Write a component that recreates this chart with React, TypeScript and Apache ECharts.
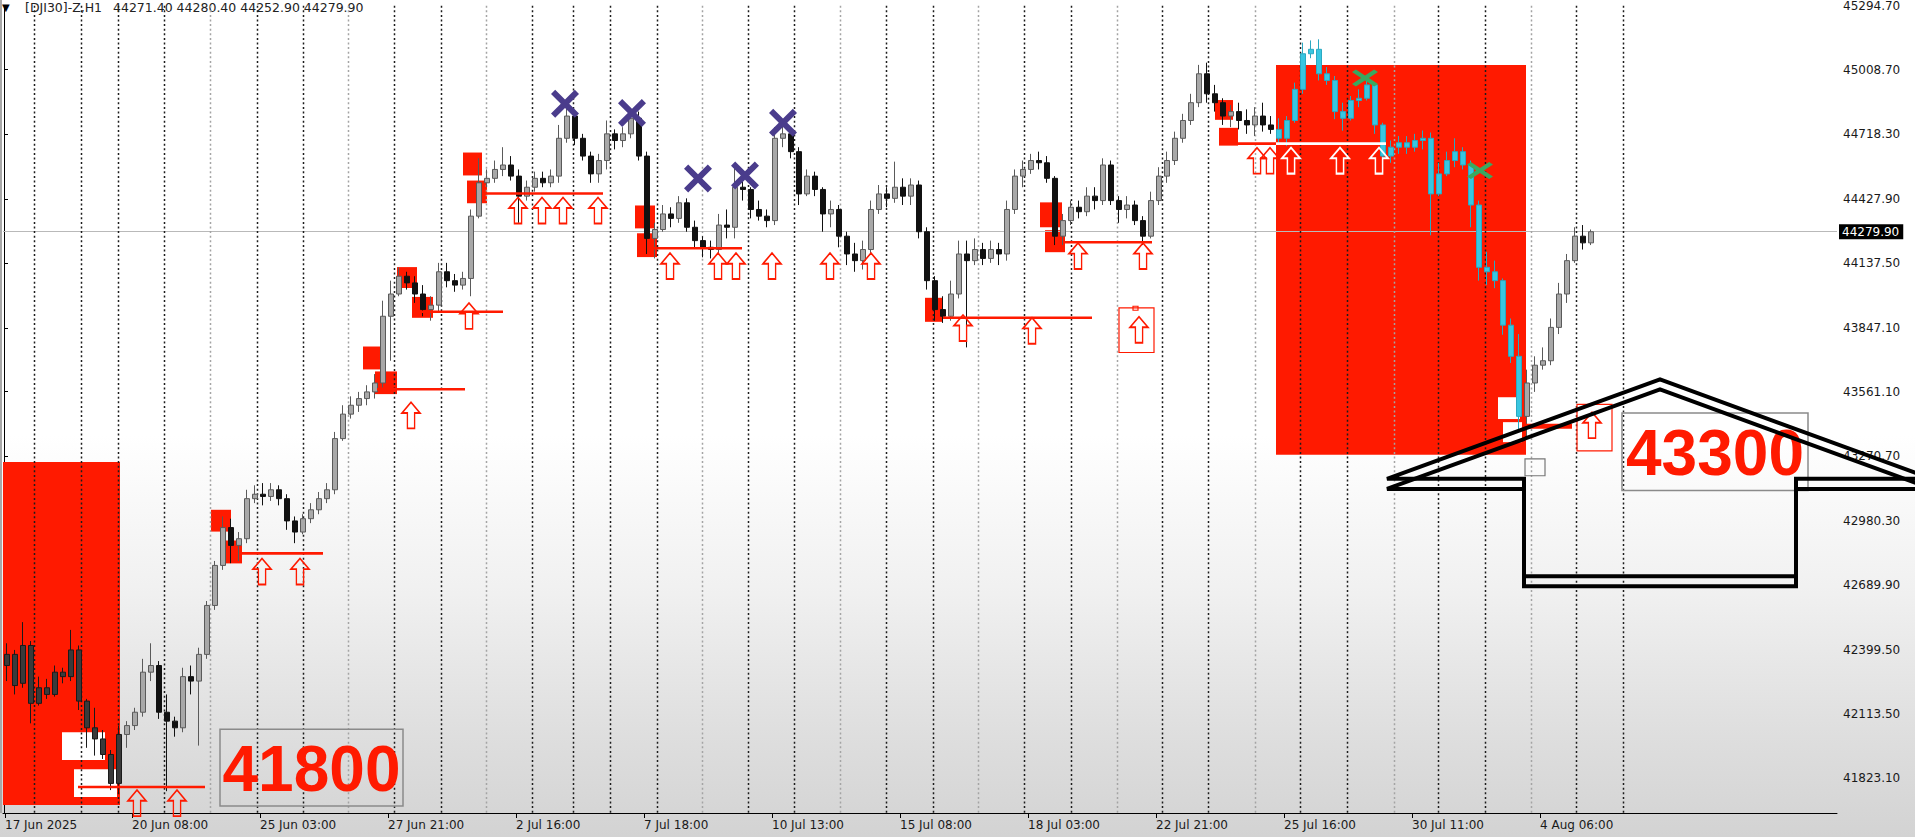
import React, { useEffect, useRef } from 'react';
import * as echarts from 'echarts';

// ---------------- data ----------------
const HOURS_PER_CANDLE = 4;
const candleOpen = [
  42330, 42380, 42250, 42420, 42160, 42230, 42200, 42300, 42280, 42400,
  42170, 42050, 42000, 41930, 41800, 42020, 42060, 42120, 42300, 42330,
  42120, 42080, 42050, 42280, 42260, 42380, 42600, 42780, 42950, 42870,
  42900, 43080, 43100, 43090, 43120, 43080, 42980, 42930, 42990, 43030,
  43080, 43120, 43350, 43460, 43500, 43530, 43560, 43600, 43900, 44000,
  44080, 44050, 44000, 43930, 43950, 44100, 44060, 44040, 44070, 44350,
  44500, 44520, 44560, 44580, 44530, 44440, 44480, 44520, 44500, 44530,
  44700, 44800, 44700, 44620, 44540, 44600, 44720, 44690, 44720, 44790,
  44620, 44250, 44290, 44360, 44340, 44410, 44300, 44240, 44210, 44200,
  44310, 44300, 44480, 44470, 44380, 44350, 44330, 44700, 44720, 44640,
  44450, 44530, 44470, 44360, 44380, 44260, 44180, 44150, 44200, 44380,
  44450, 44430, 44480, 44440, 44490, 44280, 44060, 43930, 43900, 44000,
  44180, 44150, 44200, 44160, 44200, 44180, 44380, 44530, 44560, 44600,
  44590, 44520, 44260, 44330, 44390, 44370, 44440, 44420, 44580, 44420,
  44380, 44400, 44330, 44260, 44420, 44530, 44600, 44700, 44780, 44860,
  44990, 44900, 44860, 44800, 44820, 44780, 44760, 44800, 44760, 44740,
  44700, 44780, 44920, 45080, 45100, 44990, 44960, 44820, 44790, 44870,
  44880, 44940, 44760, 44620, 44660, 44680, 44660, 44690, 44700, 44450,
  44540, 44600, 44640, 44580, 44400, 44120, 44100, 44060, 43860, 43720,
  43450, 43600, 43680, 43700, 43850, 44000, 44150, 44260, 44230,
];
const candleClose = [
  42380, 42240, 42420, 42160, 42230, 42200, 42300, 42280, 42400, 42170,
  42050, 42000, 41930, 41800, 42020, 42060, 42120, 42300, 42330, 42120,
  42080, 42050, 42280, 42260, 42380, 42600, 42780, 42950, 42870, 42900,
  43080, 43100, 43090, 43120, 43080, 42980, 42930, 42990, 43030, 43080,
  43120, 43350, 43460, 43500, 43530, 43560, 43600, 43900, 44000, 44080,
  44050, 44000, 43930, 43950, 44100, 44060, 44040, 44070, 44350, 44500,
  44520, 44560, 44580, 44530, 44440, 44480, 44520, 44500, 44530, 44700,
  44800, 44700, 44620, 44540, 44600, 44720, 44690, 44720, 44790, 44620,
  44250, 44290, 44360, 44340, 44410, 44300, 44240, 44210, 44200, 44310,
  44300, 44480, 44470, 44380, 44350, 44330, 44700, 44720, 44640, 44450,
  44530, 44470, 44360, 44380, 44260, 44180, 44150, 44200, 44380, 44450,
  44430, 44480, 44440, 44490, 44280, 44060, 43930, 43900, 44000, 44180,
  44150, 44200, 44160, 44200, 44180, 44380, 44530, 44560, 44600, 44590,
  44520, 44260, 44330, 44390, 44370, 44440, 44420, 44580, 44420, 44380,
  44400, 44330, 44260, 44420, 44530, 44600, 44700, 44780, 44860, 44990,
  44900, 44860, 44800, 44820, 44780, 44760, 44800, 44760, 44740, 44700,
  44780, 44920, 45080, 45100, 44990, 44960, 44820, 44790, 44870, 44880,
  44940, 44760, 44620, 44660, 44680, 44660, 44690, 44700, 44450, 44540,
  44600, 44640, 44580, 44400, 44120, 44100, 44060, 43860, 43720, 43450,
  43600, 43680, 43700, 43850, 44000, 44150, 44260, 44230, 44279.9,
];
const candleLow = [
  42260, 42200, 42230, 42070, 42150, 42180, 42190, 42250, 42260, 42130,
  41960, 41925, 41910, 41770, 41757, 41960, 42040, 42100, 42260, 42090,
  41765, 42010, 42030, 42200, 41970, 42360, 42580, 42760, 42790, 42800,
  42880, 43060, 43050, 43070, 43050, 42940, 42880, 42920, 42970, 43010,
  43060, 43100, 43340, 43440, 43470, 43500, 43530, 43580, 43700, 43990,
  44020, 43960, 43900, 43880, 43920, 44030, 44010, 44020, 43990, 44340,
  44480, 44500, 44530, 44510, 44320, 44420, 44460, 44480, 44480, 44500,
  44680, 44670, 44600, 44500, 44500, 44560, 44650, 44660, 44700, 44600,
  44180, 44160, 44280, 44300, 44320, 44280, 44210, 44165, 44160, 44180,
  44250, 44250, 44420, 44340, 44330, 44300, 44310, 44660, 44610, 44400,
  44440, 44440, 44280, 44300, 44210, 44130, 44100, 44110, 44180, 44360,
  44390, 44410, 44400, 44400, 44250, 44020, 43880, 43870, 43880, 43980,
  43760, 44130, 44130, 44140, 44130, 44150, 44360, 44480, 44540, 44560,
  44500, 44220, 44220, 44310, 44340, 44350, 44380, 44400, 44400, 44320,
  44340, 44310, 44220, 44250, 44400, 44500, 44580, 44680, 44760, 44840,
  44860, 44820, 44760, 44750, 44740, 44720, 44710, 44730, 44720, 44680,
  44665, 44770, 44900, 45060, 44960, 44940, 44786, 44734, 44780, 44840,
  44870, 44720, 44590, 44590, 44630, 44630, 44640, 44650, 44264, 44440,
  44530, 44570, 44560, 44300, 44060, 44040, 44026, 43817, 43690, 43380,
  43355, 43560, 43660, 43680, 43820, 43960, 44140, 44200, 44220,
];
const candleHigh = [
  42430, 42400, 42525, 42440, 42280, 42270, 42330, 42320, 42490, 42420,
  42180, 42140, 42040, 41950, 42060, 42080, 42140, 42360, 42430, 42350,
  42200, 42100, 42320, 42330, 42410, 42620, 42800, 43000, 42990, 42930,
  43120, 43140, 43150, 43150, 43140, 43100, 43000, 43010, 43060, 43110,
  43150, 43380, 43500, 43540, 43560, 43590, 43640, 43970, 44060, 44120,
  44100, 44080, 44040, 43990, 44140, 44140, 44090, 44100, 44380, 44610,
  44560, 44600, 44660, 44620, 44560, 44510, 44550, 44550, 44560, 44760,
  44850, 44820, 44720, 44640, 44630, 44780, 44740, 44750, 44830, 44820,
  44640, 44320, 44400, 44390, 44440, 44430, 44330, 44260, 44240, 44360,
  44380, 44570, 44540, 44480, 44420, 44380, 44750, 44780, 44730, 44660,
  44560, 44550, 44480, 44420, 44400, 44280, 44230, 44240, 44420, 44490,
  44480, 44595, 44520, 44520, 44510, 44300, 44080, 43990, 44060, 44240,
  44240, 44250, 44230, 44240, 44230, 44420, 44560, 44600, 44630, 44640,
  44620, 44530, 44360, 44420, 44420, 44480, 44480, 44610, 44600, 44440,
  44440, 44420, 44350, 44460, 44570, 44640, 44730, 44810, 44900, 45030,
  45040, 44940, 44880, 44850, 44860, 44830, 44840, 44860, 44800, 44790,
  44800, 44950, 45130, 45140, 45145, 45020, 44980, 44860, 44890, 44920,
  44980, 44950, 44770, 44690, 44710, 44710, 44720, 44735, 44726, 44590,
  44640, 44700, 44660, 44600, 44420, 44190, 44150, 44070, 43890, 43820,
  43660, 43720, 43760, 43890, 44050, 44180, 44300, 44310, 44290,
];

const lastPrice = 44279.9;
const headerSymbol = '[DJI30]-Z,H1';
const headerOHLC = [44271.4, 44280.4, 44252.9, 44279.9];

const yTickValues = [45294.7, 45008.7, 44718.3, 44427.9, 44137.5, 43847.1, 43561.1, 43270.7, 42980.3, 42689.9, 42399.5, 42113.5, 41823.1];
const xTickHours = [0.5, 64, 128, 192, 256, 320, 384, 448, 512, 576, 640, 704, 768];
const xTickLabels = ['17 Jun 2025', '20 Jun 08:00', '25 Jun 03:00', '27 Jun 21:00', '2 Jul 16:00', '7 Jul 18:00', '10 Jul 13:00', '15 Jul 08:00', '18 Jul 03:00', '22 Jul 21:00', '25 Jul 16:00', '30 Jul 11:00', '4 Aug 06:00'];

// day separators (hour index)
const separatorsBlack = [15, 38.5, 57, 80, 126.5, 149.5, 195, 218.5, 264, 284.5, 303, 326.5, 372, 395, 441, 464.5, 510, 533.5, 579, 602, 648, 671.5, 717, 740.5, 786, 809.5];
const separatorsGray = [103, 172, 241, 349, 418, 487, 556.5, 625.5, 695, 763.5];

// rectangles: [hourStart, hourEnd, priceLow, priceHigh]
const zones = [[-0.5, 58, 41703, 43245], [636, 761, 43277, 45029]];
const redBoxes = [
  [103.5, 113.5, 42932, 43030], [108, 119, 42789, 42892],
  [179.5, 189.5, 43661, 43764], [185.5, 196.5, 43550, 43652],
  [196.5, 206.5, 44027, 44121], [204, 214.5, 43893, 43987],
  [229.5, 239, 44533, 44636], [231.5, 241.5, 44408, 44510],
  [315.5, 325.5, 44295, 44398], [316.5, 326.5, 44166, 44273],
  [460.5, 469.5, 43875, 43983],
  [518, 529, 44300, 44412], [520.5, 530.5, 44188, 44287],
  [605.5, 614.5, 44783, 44872], [607.5, 617, 44667, 44747],
];
const whiteBoxes = [[29, 50.5, 41905, 42030], [35, 56.5, 41739, 41864], [747, 758, 43438, 43536], [749.5, 759, 43334, 43424]];
const labelBoxes = [[108, 199.5, 41699, 42043], [809, 902, 43117, 43465]];
const labelTexts = ['41800', '43300'];
const redOutlineBoxes = [[786.5, 804, 43295, 43504], [557.5, 575, 43737, 43938], [564.5, 567, 43927, 43945]];
const grayOutlineBoxes = [[760.5, 770.5, 43183, 43259]];

// horizontal levels: [hourStart, hourEnd, price]
const redLevels = [
  [37, 100.5, 41784], [119, 159.5, 42834], [186.5, 230.5, 43572], [206.5, 249.5, 43920],
  [239, 299.5, 44452], [323, 369, 44206], [469.5, 544, 43893], [530.5, 574, 44233], [612, 636, 44676],
];
const whiteLevels = [[636, 691, 44676]];
const thickLevels = [[761, 784, 43405]];

// arrow tips [hour, price]
const redArrows = [
  [66.5, 41770], [86.5, 41770], [129, 42811], [148, 42811], [203.5, 43513], [232.5, 43960],
  [257, 44434], [269, 44434], [279.5, 44434], [297, 44434],
  [333, 44184], [357, 44184], [366, 44184], [384, 44184], [413, 44184], [433.5, 44184],
  [479.5, 43906], [514, 43893], [537, 44229], [569.5, 44229], [567.5, 43898], [794, 43469],
  [626.5, 44658], [633, 44658],
];
const whiteArrows = [[643.5, 44658], [668, 44658], [687.5, 44658]];
const blueCrosses = [[280.5, 44855], [314, 44814], [347, 44519], [370.5, 44533], [389.5, 44770]];
const greenCrosses = [[680.5, 44971], [738, 44555]];

// house outline drawn twice, [hour, price]
const houseUpper = [[760, 42731], [760, 43169], [691.5, 43169], [828, 43616], [964, 43169], [896, 43169], [896, 42731]];
const houseLower = [[760, 42686], [760, 43124], [691.5, 43124], [828, 43571], [964, 43124], [896, 43124], [896, 42686]];

// ---------------- styling ----------------
const RED = '#ff1a00';
const FONT = '"DejaVu Sans", Verdana, sans-serif';
const ARROW = 'path://M10,0 L20,11 L14,11 L14,27 L6,27 L6,11 L0,11 Z';
const CROSS = 'path://M0,3 L3,0 L10,7 L17,0 L20,3 L13,10 L20,17 L17,20 L10,13 L3,20 L0,17 L7,10 Z';

function rectSeries(name: string, data: number[][], style: any, z: number) {
  return {
    type: 'custom', name, z, silent: true, data,
    encode: { x: [0, 1], y: [2, 3] },
    renderItem: (params: any, api: any) => {
      const a = api.coord([api.value(0), api.value(3)]);
      const b = api.coord([api.value(1), api.value(2)]);
      return { type: 'rect', shape: { x: a[0], y: a[1], width: b[0] - a[0], height: b[1] - a[1] }, style };
    },
  };
}

function levelSeries(name: string, data: number[][], color: string, width: number, z: number) {
  return {
    type: 'custom', name, z, silent: true, data,
    encode: { x: [0, 1], y: 2 },
    renderItem: (params: any, api: any) => {
      const a = api.coord([api.value(0), api.value(2)]);
      const b = api.coord([api.value(1), api.value(2)]);
      return { type: 'line', shape: { x1: a[0], y1: a[1], x2: b[0], y2: b[1] }, style: { stroke: color, lineWidth: width } };
    },
  };
}

function separatorSeries(name: string, data: number[], color: string) {
  return {
    type: 'custom', name, z: 2, silent: true,
    data: data.map((h) => [h]),
    encode: { x: 0 },
    renderItem: (params: any, api: any) => {
      const x = Math.round(api.coord([api.value(0), 43000])[0]) + 0.5;
      const cs = params.coordSys;
      return { type: 'line', shape: { x1: x, y1: cs.y, x2: x, y2: cs.y + cs.height }, style: { stroke: color, lineWidth: 1.5, lineDash: [2, 2.6] } };
    },
  };
}

function buildOption() {
  const rightZone = zones[1];
  const leftZone = zones[0];
  const candles = candleOpen.map((o, k) => {
    const h = k * HOURS_PER_CANDLE + (HOURS_PER_CANDLE - 1) / 2;
    const value = [h, o, candleClose[k], candleLow[k], candleHigh[k]];
    if (h >= rightZone[0] && h <= rightZone[1]) {
      return { value, itemStyle: { color: '#39c6e0', borderColor: '#2aa9c2' } };
    }
    if (h >= leftZone[0] && h <= leftZone[1]) {
      return { value, itemStyle: { color: '#3a3a3a', borderColor: '#1a1a1a' } };
    }
    return value;
  });

  return {
    animation: false,
    backgroundColor: 'transparent',
    grid: { left: 3, right: 78, top: -1, bottom: 24 },
    xAxis: {
      type: 'value', min: -0.5, max: 916.5,
      axisLine: { show: true, lineStyle: { color: '#000', width: 1 } },
      axisTick: { show: true, customValues: xTickHours, length: 5, lineStyle: { color: '#000' } },
      axisLabel: {
        show: true, customValues: xTickHours, align: 'left', margin: 6,
        color: '#1a1a1a', fontFamily: FONT, fontSize: 12,
        formatter: (v: number) => {
          const idx = xTickHours.indexOf(v);
          return idx >= 0 ? xTickLabels[idx] : '';
        },
      },
      splitLine: { show: false },
    },
    yAxis: {
      type: 'value', position: 'right', min: 41667, max: 45296, scale: true,
      axisLine: { show: true, lineStyle: { color: '#000', width: 1 } },
      axisTick: { show: true, customValues: yTickValues, length: 4, lineStyle: { color: '#000' } },
      axisLabel: {
        show: true, customValues: yTickValues, margin: 6,
        verticalAlignMaxLabel: 'middle', verticalAlignMinLabel: 'middle',
        color: '#1a1a1a', fontFamily: FONT, fontSize: 12,
        formatter: (v: number) => v.toFixed(2),
      },
      splitLine: { show: false },
    },
    graphic: [
      { type: 'text', left: 2, top: 2, silent: true, style: { text: '▼', font: `10px ${FONT}`, fill: '#000' } },
      { type: 'text', left: 25, top: 1, silent: true, style: { text: headerSymbol, font: `12.5px ${FONT}`, fill: '#222' } },
      { type: 'text', left: 113, top: 1, silent: true, style: { text: headerOHLC.map((v) => v.toFixed(2)).join(' '), font: `12.5px ${FONT}`, fill: '#222' } },
      { type: 'rect', left: 0, top: 0, silent: true, shape: { width: 2, height: 813 }, style: { fill: '#a8a8a8' } },
    ],
    series: [
      rectSeries('zones', zones, { fill: RED }, 1),
      rectSeries('redBoxes', redBoxes, { fill: RED }, 1),
      rectSeries('whiteBoxes', whiteBoxes, { fill: '#ffffff' }, 1),
      separatorSeries('sepGray', separatorsGray, '#a4a4a4'),
      separatorSeries('sepBlack', separatorsBlack, '#1c1c1c'),
      {
        type: 'candlestick', name: 'DJI30', z: 3, silent: true,
        barWidth: 5,
        data: candles,
        itemStyle: { color: '#a8a8a8', color0: '#111111', borderColor: '#5a5a5a', borderColor0: '#111111', borderWidth: 1 },
        markLine: {
          silent: true, symbol: ['none', 'none'], z: 2,
          data: [{ yAxis: lastPrice }],
          lineStyle: { color: '#b9b9b9', width: 1, type: 'solid' },
          label: {
            show: true, position: 'end', distance: 2, formatter: lastPrice.toFixed(2),
            color: '#ffffff', backgroundColor: '#000000', padding: [2, 4, 1, 3], fontFamily: FONT, fontSize: 12,
          },
        },
      },
      levelSeries('redLevels', redLevels, RED, 2.6, 4),
      levelSeries('whiteLevels', whiteLevels, '#ffffff', 2.6, 4),
      levelSeries('thickLevels', thickLevels, RED, 5, 4),
      {
        type: 'custom', name: 'labelBoxes', z: 4, silent: true, data: labelBoxes.map((b, i) => [...b, i]),
        encode: { x: [0, 1], y: [2, 3] },
        renderItem: (params: any, api: any) => {
          const a = api.coord([api.value(0), api.value(3)]);
          const b = api.coord([api.value(1), api.value(2)]);
          return {
            type: 'group',
            children: [
              { type: 'rect', shape: { x: a[0], y: a[1], width: b[0] - a[0], height: b[1] - a[1] }, style: { fill: 'none', stroke: '#8a8a8a', lineWidth: 1.5 } },
              {
                type: 'text',
                style: {
                  text: labelTexts[api.value(4)], x: (a[0] + b[0]) / 2, y: (a[1] + b[1]) / 2 + 1,
                  align: 'center', verticalAlign: 'middle', fill: RED,
                  font: 'bold 64px "Liberation Sans", Arial, sans-serif',
                },
              },
            ],
          };
        },
      },
      rectSeries('redOutline', redOutlineBoxes, { fill: 'none', stroke: RED, lineWidth: 1.2 }, 4),
      rectSeries('grayOutline', grayOutlineBoxes, { fill: 'none', stroke: '#777', lineWidth: 1.2 }, 4),
      {
        type: 'scatter', name: 'redArrows', z: 5, silent: true, clip: false, data: redArrows,
        symbol: ARROW, symbolSize: [18, 26], symbolOffset: [0, '50%'],
        itemStyle: { color: 'rgba(255,255,255,0)', borderColor: RED, borderWidth: 1.6, opacity: 1 },
      },
      {
        type: 'scatter', name: 'whiteArrows', z: 5, silent: true, clip: false, data: whiteArrows,
        symbol: ARROW, symbolSize: [18, 26], symbolOffset: [0, '50%'],
        itemStyle: { color: 'rgba(255,255,255,0)', borderColor: '#ffffff', borderWidth: 1.8, opacity: 1 },
      },
      {
        type: 'scatter', name: 'blueX', z: 6, silent: true, data: blueCrosses,
        symbol: CROSS, symbolSize: [28, 28], itemStyle: { color: '#4a3c8c', opacity: 1 },
      },
      {
        type: 'scatter', name: 'greenX', z: 6, silent: true, data: greenCrosses,
        symbol: CROSS, symbolSize: [26, 17], itemStyle: { color: '#3aa860', opacity: 1 },
      },
      {
        type: 'custom', name: 'house', z: 7, silent: true, clip: false, data: [[0]],
        encode: { x: 0 },
        renderItem: (params: any, api: any) => {
          const up = houseUpper.map((p) => api.coord(p));
          const lo = houseLower.map((p) => api.coord(p));
          const st = { fill: 'none', stroke: '#000', lineWidth: 4, lineJoin: 'miter' };
          return {
            type: 'group',
            children: [
              { type: 'polygon', shape: { points: up }, style: st },
              { type: 'polygon', shape: { points: lo }, style: st },
            ],
          };
        },
      },
    ],
  };
}

export default function App() {
  const ref = useRef<HTMLDivElement>(null);
  useEffect(() => {
    if (!ref.current) return;
    const chart = echarts.init(ref.current, null, { renderer: 'svg' });
    chart.setOption(buildOption() as any);
    return () => chart.dispose();
  }, []);
  return (
    <div
      ref={ref}
      style={{
        position: 'fixed', left: 0, top: 0, width: 1915, height: 837,
        background: 'linear-gradient(to bottom, #ffffff 0%, #ffffff 52%, #f1f1f1 70%, #dedede 88%, #d3d3d3 100%)',
      }}
    />
  );
}
